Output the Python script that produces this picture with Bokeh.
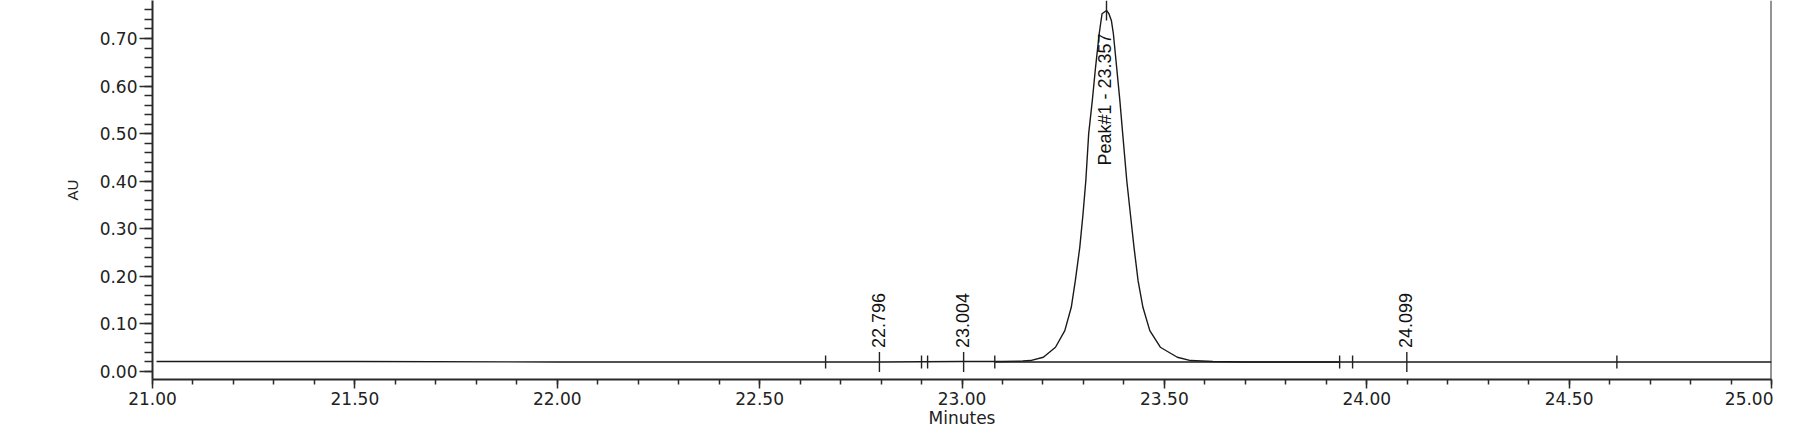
import numpy as np
from bokeh.plotting import figure
from bokeh.models import SingleIntervalTicker, PrintfTickFormatter, Span, Range1d
from bokeh.core.properties import value
from bokeh.embed import file_html
from bokeh.resources import INLINE

# ---- data ----
time_min = [21.01, 21.50, 22.00, 22.50, 22.80, 23.00, 23.10, 23.15, 23.169, 23.201,
            23.231, 23.254, 23.270, 23.280, 23.291, 23.299, 23.306, 23.313, 23.322,
            23.330, 23.339, 23.346, 23.357, 23.363, 23.369, 23.374, 23.382, 23.390,
            23.397, 23.407, 23.416, 23.425, 23.435, 23.447, 23.464, 23.490, 23.532,
            23.565, 23.620, 23.700, 23.800, 24.000, 24.300, 24.600, 25.000]
absorb_au = [0.021, 0.021, 0.020, 0.020, 0.020, 0.021, 0.021, 0.022, 0.023, 0.030,
             0.051, 0.086, 0.135, 0.191, 0.261, 0.331, 0.402, 0.500, 0.570,
             0.640, 0.710, 0.752, 0.759, 0.752, 0.738, 0.710, 0.640, 0.570,
             0.500, 0.402, 0.331, 0.261, 0.191, 0.135, 0.086, 0.051, 0.030,
             0.023, 0.021, 0.020, 0.020, 0.020, 0.020, 0.020, 0.020]

# integration baseline of Peak#1
peak_base_start = [23.081]
peak_base_end = [23.933]
peak_base_au = [0.020]

# peak start / end markers
bound_time = [22.663, 22.900, 22.915, 23.081, 23.933, 23.965, 24.618]
bound_au = [0.020, 0.020, 0.020, 0.020, 0.020, 0.020, 0.020]

# small labelled peaks
small_rt = [22.796, 23.004, 24.099]
small_au = [0.020, 0.020, 0.020]
small_labels = ["22.796", "23.004", "24.099"]

# main peak
main_rt = [23.357]
main_au = [0.759]
main_labels = ["Peak#1 - 23.357"]

# ---- figure ----
p = figure(frame_width=1619, frame_height=379,
           min_border_left=152, min_border_top=0, min_border_right=2, min_border_bottom=10,
           x_range=Range1d(21.0, 25.0), y_range=Range1d(-0.0168, 0.7799),
           output_backend="svg", toolbar_location=None)
p.background_fill_color = "white"
p.border_fill_color = "white"
p.outline_line_color = None
p.xgrid.visible = False
p.ygrid.visible = False

axc = "#2a2a2a"
for ax in (p.xaxis[0], p.yaxis[0]):
    ax.axis_line_color = axc
    ax.axis_line_width = 2
    ax.major_tick_line_color = axc
    ax.minor_tick_line_color = axc
    ax.major_tick_line_width = 1.5
    ax.minor_tick_line_width = 1.5
    ax.major_tick_in = 0
    ax.minor_tick_in = 0
    ax.major_label_text_font = "DejaVu Sans"
    ax.major_label_text_font_size = "17px"
    ax.major_label_text_color = "#222222"
    ax.axis_label_text_font_style = "normal"
    ax.axis_label_text_color = "#222222"

p.xaxis.ticker = SingleIntervalTicker(interval=0.5, num_minor_ticks=5)
p.xaxis.formatter = PrintfTickFormatter(format="%.2f")
p.xaxis.major_tick_out = 9
p.xaxis.minor_tick_out = 5
p.xaxis.major_label_standoff = 3
p.xaxis.axis_label = "Minutes"
p.xaxis.axis_label_text_font = "DejaVu Sans"
p.xaxis.axis_label_text_font_size = "17px"
p.xaxis.axis_label_standoff = 0

p.yaxis.ticker = SingleIntervalTicker(interval=0.1, num_minor_ticks=5)
p.yaxis.formatter = PrintfTickFormatter(format="%.2f")
p.yaxis.major_tick_out = 13
p.yaxis.minor_tick_out = 8
p.yaxis.major_label_standoff = 2
p.yaxis.axis_label = "AU"
p.yaxis.axis_label_text_font = "Liberation Sans"
p.yaxis.axis_label_text_font_size = "15px"
p.yaxis.axis_label_standoff = 16

p.add_layout(Span(location=25.0, dimension="height", line_color=axc, line_width=2))

# trace
p.line(time_min, absorb_au, line_color="#1a1a1a", line_width=1.4)

# peak baseline
p.segment(x0=peak_base_start, y0=peak_base_au, x1=peak_base_end, y1=peak_base_au,
          line_color="#1a1a1a", line_width=1.3)

# boundary ticks
p.scatter(x=bound_time, y=bound_au, marker="dash", size=13, angle=np.pi / 2,
          line_color="#222222", line_width=1.4)

# retention ticks
p.scatter(x=small_rt + main_rt, y=small_au + main_au, marker="dash", size=20, angle=np.pi / 2,
          line_color="#222222", line_width=1.4)

lab_font = value("Liberation Sans")
p.text(x=small_rt, y=small_au, text=small_labels, angle=np.pi / 2,
       text_align="left", text_baseline="middle", x_offset=-1, y_offset=-14,
       text_font=lab_font, text_font_size="18px", text_color="#111111")
p.text(x=main_rt, y=main_au, text=main_labels, angle=np.pi / 2,
       text_align="right", text_baseline="middle", x_offset=-1, y_offset=23,
       text_font=lab_font, text_font_size="18px", text_color="#111111")

open("out.html", "w").write(file_html(p, INLINE))
